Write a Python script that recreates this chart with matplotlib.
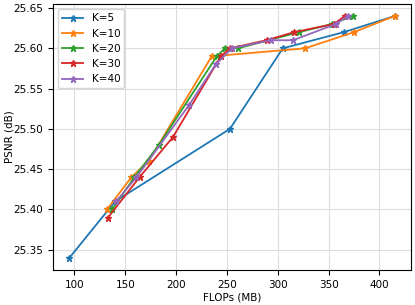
import matplotlib
matplotlib.use("Agg")
import matplotlib.pyplot as plt

# FLOPs (MB) / PSNR (dB) per K
k5_flops = [95, 140, 253, 305, 365, 415]
k5_psnr = [25.34, 25.41, 25.50, 25.60, 25.62, 25.64]

k10_flops = [132, 156, 173, 235, 327, 375, 415]
k10_psnr = [25.40, 25.44, 25.46, 25.59, 25.60, 25.62, 25.64]

k20_flops = [137, 159, 183, 240, 248, 261, 321, 353, 374]
k20_psnr = [25.40, 25.44, 25.48, 25.59, 25.60, 25.60, 25.62, 25.63, 25.64]

k30_flops = [133, 164, 197, 244, 253, 289, 316, 355, 366]
k30_psnr = [25.39, 25.44, 25.49, 25.59, 25.60, 25.61, 25.62, 25.63, 25.64]

k40_flops = [141, 161, 213, 239, 255, 293, 315, 357, 369]
k40_psnr = [25.41, 25.44, 25.53, 25.58, 25.60, 25.61, 25.61, 25.63, 25.64]

labels = ['K=5', 'K=10', 'K=20', 'K=30', 'K=40']

plt.rcParams['font.size'] = 7.5

fig = plt.figure(figsize=(4.15, 3.05), dpi=100)
ax = fig.add_subplot(111)
fig.subplots_adjust(left=0.128, right=0.990, top=0.987, bottom=0.115)

series = [(k5_flops, k5_psnr), (k10_flops, k10_psnr), (k20_flops, k20_psnr),
          (k30_flops, k30_psnr), (k40_flops, k40_psnr)]
for (fx, fy), lab in zip(series, labels):
    ax.plot(fx, fy, '-*', label=lab, linewidth=1.3, markersize=5)

ax.grid(True, color='#dddddd', linewidth=0.8)
ax.set_xlabel("FLOPs (MB)", labelpad=2)
ax.set_ylabel("PSNR (dB)")
ax.yaxis.set_label_coords(-0.108, 0.5)
ax.set_xticks([100, 150, 200, 250, 300, 350, 400])
ax.set_yticks([25.35, 25.40, 25.45, 25.50, 25.55, 25.60, 25.65])
ax.legend(loc='upper left', fontsize=7.5)

fig.savefig("out.png", dpi=100)
